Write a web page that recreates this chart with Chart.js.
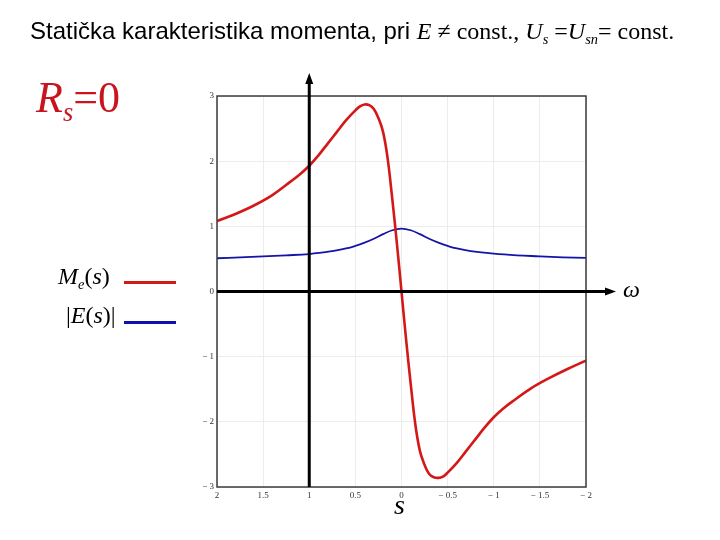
<!DOCTYPE html>
<html>
<head>
<meta charset="utf-8">
<script src="https://cdn.jsdelivr.net/npm/chart.js@4/dist/chart.umd.min.js"></script>
<style>
    body { margin: 0; background: #fff; }
    #wrap { position: relative; width: 720px; height: 540px; }
    #wrap canvas { position: absolute; left: 0; top: 0; }
    .t { position: absolute; white-space: nowrap; font-family: "Liberation Serif", "Times New Roman", serif; }
    .t i { font-style: italic; }
    .t sub { font-size: 0.6em; vertical-align: -0.35em; line-height: 0; }
    .sw { position: absolute; height: 3px; }
</style>
</head>
<body>
<div id="wrap">
    <canvas id="chart" width="720" height="540"></canvas>

    <div class="t" style="left:30px; top:17px; font-size:24px; color:#000;">
        <span style="font-family:'Liberation Sans', Arial, sans-serif;">Statička karakteristika momenta, pri </span><i>E</i> ≠ const., <i>U<sub>s</sub></i> =<i>U<sub>sn</sub></i>= const.
    </div>
    <div class="t" style="left:36px; top:72px; font-size:44px; color:#c8141e;"><i>R<sub>s</sub></i>=0</div>

    <div class="t" style="left:58px; top:263px; font-size:24px; color:#000;"><i>M<sub>e</sub></i>(<i>s</i>)</div>
    <div class="sw" style="left:124px; top:281px; width:52px; background:#d41818;"></div>
    <div class="t" style="left:66px; top:302px; font-size:24px; color:#000;">|<i>E</i>(<i>s</i>)|</div>
    <div class="sw" style="left:124px; top:321px; width:52px; background:#1010b0;"></div>

    <div class="t" style="left:623px; top:276px; font-size:24px; color:#000;"><i>ω</i></div>
    <div class="t" style="left:394px; top:489px; font-size:28px; color:#000;"><i>s</i></div>
</div>

<script>
// slip values (x axis runs from 2 on the left to -2 on the right)
const slipTorque = [2, 1.8, 1.6, 1.4, 1.2, 1.1, 1.0, 0.9, 0.8, 0.7, 0.6, 0.5, 0.45, 0.4, 0.35, 0.3, 0.25, 0.2, 0.15, 0.1, 0.05, 0,
    -0.05, -0.1, -0.15, -0.2, -0.25, -0.3, -0.35, -0.4, -0.45, -0.5, -0.6, -0.7, -0.8, -0.9, -1.0, -1.1, -1.2, -1.4, -1.6, -1.8, -2]
// Me(s)
const torque = [1.08, 1.19, 1.32, 1.48, 1.69, 1.80, 1.93, 2.09, 2.27, 2.45, 2.63, 2.78, 2.84, 2.87, 2.86, 2.80, 2.66, 2.45, 2.04, 1.42, 0.74, 0,
    -0.74, -1.42, -2.04, -2.45, -2.66, -2.80, -2.85, -2.86, -2.84, -2.78, -2.63, -2.45, -2.27, -2.09, -1.93, -1.80, -1.69, -1.49, -1.33, -1.19, -1.06]

const slipEmf = [2, 1.75, 1.5, 1.25, 1.0, 0.75, 0.6, 0.5, 0.4, 0.3, 0.2, 0.1, 0,
    -0.1, -0.2, -0.3, -0.4, -0.5, -0.6, -0.75, -1.0, -1.25, -1.5, -1.75, -2]
// |E(s)|
const emf = [0.51, 0.525, 0.54, 0.555, 0.575, 0.62, 0.66, 0.70, 0.75, 0.81, 0.88, 0.94, 0.965,
    0.94, 0.88, 0.81, 0.75, 0.70, 0.66, 0.62, 0.58, 0.555, 0.54, 0.525, 0.515]

const xTicks = [2, 1.5, 1, 0.5, 0, -0.5, -1, -1.5, -2]
const yTicks = [-3, -2, -1, 0, 1, 2, 3]

const fmt = (v) => v < 0 ? '\u2212 ' + Math.abs(v) : String(v)
const pairs = (xs, ys) => xs.map((x, i) => ({ x, y: ys[i] }))

// frame round the plot and the two black axes with arrows
const axesPlugin = {
    id: 'axes',
    afterDatasetsDraw(chart) {
        const { ctx, chartArea: a, scales } = chart
        const x1 = scales.x.getPixelForValue(1)
        const y0 = scales.y.getPixelForValue(0)
        ctx.save()
        ctx.strokeStyle = '#3a3a3a'
        ctx.lineWidth = 1.5
        ctx.strokeRect(a.left, a.top, a.right - a.left, a.bottom - a.top)

        ctx.strokeStyle = '#000'
        ctx.fillStyle = '#000'
        ctx.lineWidth = 3
        ctx.beginPath()
        ctx.moveTo(x1, a.bottom)
        ctx.lineTo(x1, 82)
        ctx.moveTo(a.left, y0)
        ctx.lineTo(607, y0)
        ctx.stroke()
        ctx.beginPath()
        ctx.moveTo(x1, 73); ctx.lineTo(x1 - 4, 84); ctx.lineTo(x1 + 4, 84); ctx.closePath()
        ctx.moveTo(616, y0); ctx.lineTo(605, y0 - 4); ctx.lineTo(605, y0 + 4); ctx.closePath()
        ctx.fill()
        ctx.restore()
    }
}

const tickFont = { family: "'Liberation Serif', 'Times New Roman', serif", size: 9 }

new Chart(document.getElementById('chart'), {
    type: 'line',
    data: {
        datasets: [
            {
                label: 'Me(s)',
                data: pairs(slipTorque, torque),
                borderColor: '#d41818',
                borderWidth: 2.6,
                pointRadius: 0,
                tension: 0.4
            },
            {
                label: '|E(s)|',
                data: pairs(slipEmf, emf),
                borderColor: '#1414a8',
                borderWidth: 1.8,
                pointRadius: 0,
                tension: 0.4
            }
        ]
    },
    options: {
        responsive: false,
        animation: false,
        layout: { padding: { left: 192, top: 96, right: 134, bottom: 38 } },
        plugins: { legend: { display: false }, tooltip: { enabled: false } },
        scales: {
            x: {
                type: 'linear',
                reverse: true,
                min: -2,
                max: 2,
                afterBuildTicks: (s) => { s.ticks = xTicks.map((v) => ({ value: v })) },
                afterFit: (s) => { s.height = 15 },
                grid: { color: '#ececec', drawTicks: false },
                border: { display: false },
                ticks: { font: tickFont, color: '#333', padding: 3, maxRotation: 0, autoSkip: false, callback: fmt }
            },
            y: {
                min: -3,
                max: 3,
                afterBuildTicks: (s) => { s.ticks = yTicks.map((v) => ({ value: v })) },
                afterFit: (s) => { s.width = 25 },
                grid: { color: '#ececec', drawTicks: false },
                border: { display: false },
                ticks: { font: tickFont, color: '#333', padding: 3, callback: fmt }
            }
        }
    },
    plugins: [axesPlugin]
})
</script>
</body>
</html>
